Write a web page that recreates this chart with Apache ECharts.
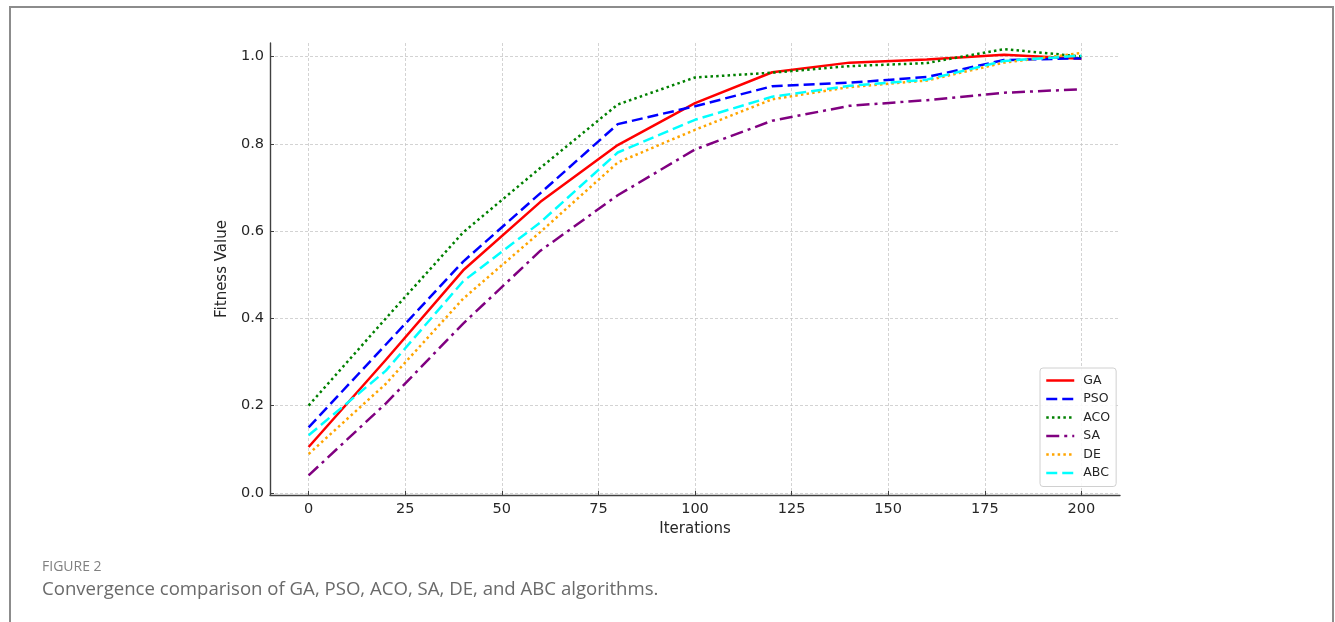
<!DOCTYPE html>
<html>
<head>
<meta charset="utf-8">
<script src="https://cdn.jsdelivr.net/npm/echarts@6/dist/echarts.min.js"></script>
<style>
    html, body { margin: 0; padding: 0; background: #fff; }
    .frame {
        position: absolute; left: 9px; top: 6px; width: 1321px; height: 700px;
        border-left: 2px solid #8c8c8c; border-top: 2px solid #8c8c8c; border-right: 2px solid #8c8c8c;
    }
    #main { position: absolute; left: 0; top: 0; width: 1335px; height: 622px; }
    .fig-label {
        position: absolute; left: 42px; top: 556px;
        font-family: "Open Sans", sans-serif; font-size: 14px; color: #808080;
    }
    .fig-caption {
        position: absolute; left: 42px; top: 575px;
        font-family: "Open Sans", sans-serif; font-size: 18.6px; color: #6a6a6a;
    }
</style>
</head>
<body>
<div class="frame"></div>
<div id="main"></div>
<div class="fig-label">FIGURE 2</div>
<div class="fig-caption">Convergence comparison of GA, PSO, ACO, SA, DE, and ABC algorithms.</div>
<script>
    // iterations sampled every 20
    const iterations = [0, 20, 40, 60, 80, 100, 120, 140, 160, 180, 200];
    const gaVals  = [0.105, 0.305, 0.51, 0.667, 0.797, 0.893, 0.964, 0.986, 0.993, 1.004, 0.995];
    const psoVals = [0.15, 0.34, 0.53, 0.687, 0.845, 0.886, 0.932, 0.940, 0.953, 0.992, 0.996];
    const acoVals = [0.20, 0.40, 0.597, 0.745, 0.89, 0.952, 0.963, 0.978, 0.985, 1.017, 1.0];
    const saVals  = [0.04, 0.205, 0.388, 0.555, 0.682, 0.787, 0.853, 0.887, 0.900, 0.917, 0.925];
    const deVals  = [0.089, 0.25, 0.445, 0.598, 0.757, 0.832, 0.902, 0.93, 0.945, 0.986, 1.008];
    const abcVals = [0.132, 0.28, 0.485, 0.62, 0.78, 0.855, 0.908, 0.933, 0.947, 0.99, 1.002];

    const algoNames = ['GA', 'PSO', 'ACO', 'SA', 'DE', 'ABC'];
    const algoData = [gaVals, psoVals, acoVals, saVals, deVals, abcVals];
    const algoColors = ['#ff0000', '#0000ff', '#008000', '#800080', '#ffa500', '#00ffff'];
    const algoDash = ['solid', [11, 5], [2.5, 3.2], [13, 5, 3, 5], [2.5, 3.2], [11, 5]];

    let chart = echarts.init(document.getElementById('main'));
    let tickFont = { fontFamily: 'DejaVu Sans', fontSize: 14.5, color: '#262626' };
    let grid = { type: [3, 2], color: '#c8c8c8', width: 0.8 };

    let series = [];
    for (let i = 0; i < algoNames.length; i++) {
        series.push({
            name: algoNames[i],
            type: 'line',
            symbol: 'none',
            data: iterations.map((x, k) => [x, algoData[i][k]]),
            lineStyle: { color: algoColors[i], width: 2.5, type: algoDash[i], cap: 'butt' },
            itemStyle: { color: algoColors[i] },
            z: 3
        });
    }

    let option = {
        animation: false,
        grid: { left: 270, top: 43, right: 215, bottom: 127, containLabel: false },
        legend: {
            orient: 'vertical',
            left: 1040, top: 368,
            padding: [6, 6, 7, 5],
            itemWidth: 28, itemHeight: 14, itemGap: 5.5,
            borderColor: '#d0d0d0', borderWidth: 1, borderRadius: 3,
            backgroundColor: 'rgba(255,255,255,0.85)',
            itemStyle: { color: 'transparent', borderColor: 'transparent', borderWidth: 0, opacity: 0 },
            lineStyle: { width: 2.5 },
            textStyle: { fontFamily: 'DejaVu Sans', fontSize: 12.5, color: '#262626', padding: [0, 0, 0, 4] },
            data: algoNames
        },
        xAxis: {
            type: 'value',
            min: -10, max: 210,
            minInterval: 25, maxInterval: 25,
            name: 'Iterations',
            nameLocation: 'middle',
            nameGap: 24,
            nameTextStyle: { fontFamily: 'DejaVu Sans', fontSize: 15, color: '#262626' },
            axisLine: { show: true, onZero: false, lineStyle: { color: '#404040', width: 1.4 } },
            axisTick: { show: true, inside: true, length: 4, lineStyle: { color: '#404040' } },
            axisLabel: Object.assign({ margin: 7, showMinLabel: false, showMaxLabel: false,
                formatter: v => (v % 25 === 0 ? String(v) : '') }, tickFont),
            splitLine: { show: true, showMinLine: false, showMaxLine: false, lineStyle: grid }
        },
        yAxis: {
            type: 'value',
            min: -0.005, max: 1.031,
            minInterval: 0.2, maxInterval: 0.2,
            name: 'Fitness Value',
            nameLocation: 'middle',
            nameGap: 30,
            nameTextStyle: { fontFamily: 'DejaVu Sans', fontSize: 15, color: '#262626' },
            axisLine: { show: true, onZero: false, lineStyle: { color: '#404040', width: 1.4 } },
            axisTick: { show: true, inside: true, length: 4, lineStyle: { color: '#404040' } },
            axisLabel: Object.assign({ margin: 6, showMinLabel: false, showMaxLabel: false,
                formatter: v => (Math.abs(v * 5 - Math.round(v * 5)) < 1e-6 ? v.toFixed(1) : '') }, tickFont),
            splitLine: { show: true, showMinLine: false, showMaxLine: false, lineStyle: grid }
        },
        series: series
    };
    chart.setOption(option);
</script>
</body>
</html>
